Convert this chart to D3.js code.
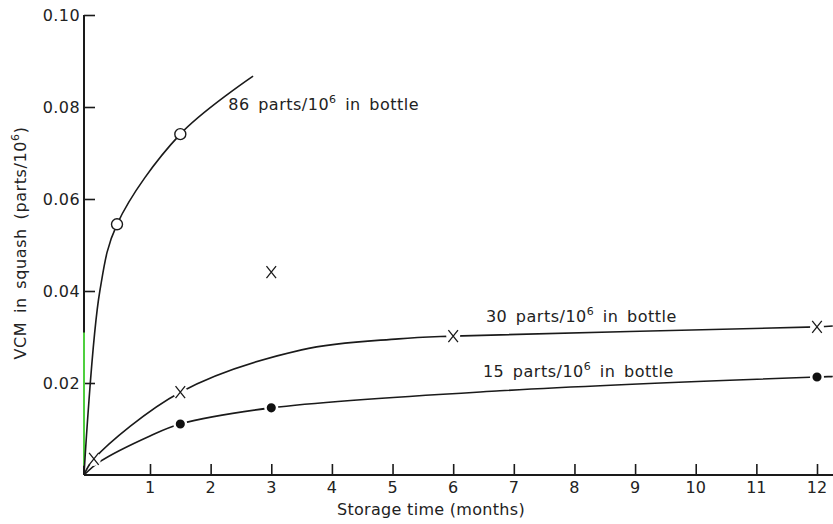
<!DOCTYPE html>
<html><head><meta charset="utf-8">
<script src="https://cdn.jsdelivr.net/npm/d3@7"></script>
<style>
body{margin:0;background:#fff}
text{font-family:"DejaVu Sans",sans-serif;fill:#222}
</style></head>
<body><svg id="c" width="833" height="524"></svg>
<script>
// ---- data (months, parts/10^6) ----
const xTicks = [1,2,3,4,5,6,7,8,9,10,11,12];
const yTicks = [0.02,0.04,0.06,0.08,0.10];
const yTickLabels = ["0.02","0.04","0.06","0.08","0.10"];

// measured points
const pts86 = [[0.5,0.0545],[1.5,0.0741]];
const pts30 = [[0.15,0.0035],[1.5,0.018],[6,0.0302],[12,0.0322]];
const pts30stray = [[3,0.0441]];
const pts15 = [[1.5,0.0111],[3,0.0146],[12,0.0213]];

// hand-drawn fitted curves
const curve86 = [[0,0],[0.24,0.04],[0.5,0.0545],[1.5,0.0741],[2.7,0.0867]];
const curve30 = [[0,0],[0.15,0.0035],[1.5,0.018],[3.5,0.0272],[5.1,0.0296],[6,0.0302],[12,0.0322],[12.26,0.0324]];
const curve15 = [[0,0],[0.24,0.0029],[1,0.0085],[1.5,0.0111],[3,0.0146],[6.77,0.0183],[12,0.0213],[12.26,0.0214]];

const seriesLabels = [
  {num:"86", at:[2.29,0.0793]},
  {num:"30", at:[6.54,0.0333]},
  {num:"15", at:[6.49,0.0213]}
];

// ---- scales ----
const svg = d3.select("#c");
const x = d3.scaleLinear().domain([0,1,12]).range([84,150,817]);
const y = d3.scaleLinear().domain([0,0.10]).range([475,15]);

const ink = "#1a1a1a";

// axes
const yAxis = svg.append("g").attr("transform",`translate(${x(0)},0)`)
  .call(d3.axisRight(y).tickValues(yTicks).tickSize(11).tickFormat(""));
yAxis.select(".domain").remove();
yAxis.selectAll("line").attr("stroke",ink).attr("stroke-width",1.6);
svg.append("line").attr("x1",x(0)).attr("x2",x(0)).attr("y1",y(0.10)).attr("y2",y(0))
  .attr("stroke",ink).attr("stroke-width",2);
// scan tint on lower axis
svg.append("line").attr("x1",x(0)).attr("x2",x(0)).attr("y1",y(0.031)).attr("y2",y(0.002))
  .attr("stroke","#4fcf3f").attr("stroke-width",2);

svg.selectAll(".yl").data(yTicks).enter().append("text")
  .attr("x",80).attr("y",d=>y(d)+6).attr("text-anchor","end")
  .attr("font-size",16).attr("letter-spacing",0.4).text((d,i)=>yTickLabels[i]);

const xAxis = svg.append("g").attr("transform",`translate(0,${y(0)})`)
  .call(d3.axisTop(x).tickValues(xTicks).tickSize(11).tickFormat(""));
xAxis.select(".domain").remove();
xAxis.selectAll("line").attr("stroke",ink).attr("stroke-width",1.6);
svg.append("line").attr("x1",x(0)).attr("x2",833).attr("y1",y(0)).attr("y2",y(0))
  .attr("stroke",ink).attr("stroke-width",2);

svg.selectAll(".xl").data(xTicks).enter().append("text")
  .attr("x",d=>x(d)).attr("y",y(0)+18).attr("text-anchor","middle")
  .attr("font-size",16).text(d=>d);

svg.append("text").attr("x",431).attr("y",515).attr("text-anchor","middle")
  .attr("font-size",16).attr("letter-spacing",0.3).text("Storage time (months)");

const yl = svg.append("text").attr("transform","translate(26,243) rotate(-90)")
  .attr("text-anchor","middle").attr("font-size",16)
  .attr("letter-spacing",0.6).attr("word-spacing",3);
yl.append("tspan").text("VCM in squash (parts/10");
yl.append("tspan").attr("dy",-7).attr("font-size",11).text("6");
yl.append("tspan").attr("dy",7).text(")");

// curves
const line = d3.line().x(d=>x(d[0])).y(d=>y(d[1])).curve(d3.curveCatmullRom.alpha(0.5));
[curve86,curve30,curve15].forEach(c=>{
  svg.append("path").datum(c).attr("d",line).attr("fill","none")
    .attr("stroke",ink).attr("stroke-width",1.6);
});

// markers
svg.selectAll(".o").data(pts86).enter().append("circle")
  .attr("cx",d=>x(d[0])).attr("cy",d=>y(d[1])).attr("r",5.5)
  .attr("fill","#fff").attr("stroke",ink).attr("stroke-width",1.4);

function drawX(data){
  const g = svg.append("g");
  g.selectAll("circle").data(data).enter().append("circle")
    .attr("cx",d=>x(d[0])).attr("cy",d=>y(d[1])).attr("r",7).attr("fill","#fff");
  const s = 6;
  data.forEach(d=>{
    const cx=x(d[0]), cy=y(d[1]);
    g.append("path").attr("d",`M${cx-s*0.8},${cy-s}L${cx+s*0.8},${cy+s}M${cx+s*0.8},${cy-s}L${cx-s*0.8},${cy+s}`)
      .attr("stroke",ink).attr("stroke-width",1.3).attr("fill","none");
  });
}
drawX(pts30);
drawX(pts30stray);

svg.selectAll(".f").data(pts15).enter().append("circle")
  .attr("cx",d=>x(d[0])).attr("cy",d=>y(d[1])).attr("r",5.8)
  .attr("fill","#111").attr("stroke","#fff").attr("stroke-width",2.5);

// series labels
seriesLabels.forEach(l=>{
  const t = svg.append("text").attr("x",x(l.at[0])).attr("y",y(l.at[1])).attr("font-size",16)
    .attr("letter-spacing",0.5).attr("word-spacing",3);
  t.append("tspan").text(l.num+" parts/10");
  t.append("tspan").attr("dy",-7).attr("font-size",11).text("6");
  t.append("tspan").attr("dy",7).text(" in bottle");
});
</script></body></html>
